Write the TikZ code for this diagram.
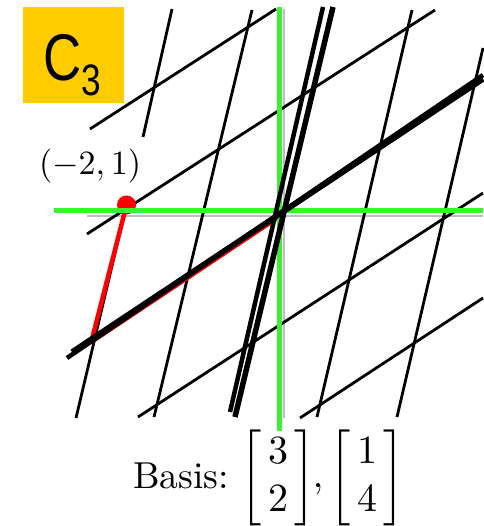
\documentclass[tikz,border=0pt]{standalone}
\usepackage{amsmath}
\usepackage{graphicx}
\usepackage{fontspec}
\newfontfamily\cfont[FakeStretch=0.8]{Liberation Sans}
\definecolor{axgreen}{RGB}{60,240,50}
\definecolor{axgray}{RGB}{190,190,190}
\definecolor{boxyellow}{RGB}{255,204,0}
\begin{document}
\begin{tikzpicture}[x=1pt,y=-1pt,
  gridline/.style={line width=2.8pt,draw=black},
  basisline/.style={line width=5.5pt,draw=black},
  smoothline/.style={line width=4.5pt,draw=black},
  axisgray/.style={line width=2.5pt,draw=axgray},
  axisgreen/.style={line width=5pt,draw=axgreen},
  redvec/.style={draw=red,line width=4.5pt},
  lbl/.style={inner sep=0pt}]
\useasboundingbox (0,0) rectangle (483,526);
% original gray axes
\draw[axisgray] (87,216) -- (483,216);
\draw[axisgray] (284,9) -- (284,418);
% lattice lines parallel to (3,2)
\draw[gridline] (90,129) -- (276,9);
\draw[gridline] (87,234) -- (435,10);
\draw[gridline] (138,417) -- (483,193);
\draw[gridline] (300,418) -- (483,298);
% lattice lines parallel to (1,4)
\draw[gridline] (172,9) -- (143,137);
\draw[gridline] (125,211) -- (76,418);
\draw[gridline] (252,10) -- (154,417);
\draw[gridline] (412,10) -- (317,417);
\draw[gridline] (483,48) -- (397,417);
% red path to (-2,1)
\draw[red,line width=3.5pt] (284,214) -- (92,342);
\draw[redvec] (92,339) -- (126,207);
\fill[red] (126.5,205) circle (9.5);
% green axes
\draw[axisgreen] (54,211) -- (483,211);
\draw[axisgreen] (279,7) -- (279,431);
% basis lines
\draw[basisline] (72,352) -- (483,79);
\draw[basisline] (333,7) -- (235,417);
\draw[smoothline] (67,358) -- (483,75);
\draw[smoothline] (323,7) -- (230,412);
% labels
\node[lbl] (pt) at (90,166.5) {\scalebox{3.4}{$(-2,1)$}};
\node[lbl,anchor=base west] (basis) at (133,488) {\scalebox{3.75}{Basis:}};
\node[lbl] (m1) at (278,478) {\scalebox{4}{$\left[\begin{array}{@{\,}c@{\,}}3\\2\end{array}\right]$}};
\node[lbl,anchor=base] (comma) at (318,487) {\scalebox{3.75}{$,$}};
\node[lbl] (m2) at (367,478) {\scalebox{4}{$\left[\begin{array}{@{\,}c@{\,}}1\\4\end{array}\right]$}};
% title box
\fill[boxyellow] (23,7) rectangle (124,103);
\node[lbl,anchor=base west] (c) at (43,81) {\fontsize{66}{66}\selectfont\cfont C};
\node[lbl,anchor=base west] (three) at (81.5,96) {\fontsize{44}{44}\selectfont\cfont 3};
\end{tikzpicture}
\end{document}
